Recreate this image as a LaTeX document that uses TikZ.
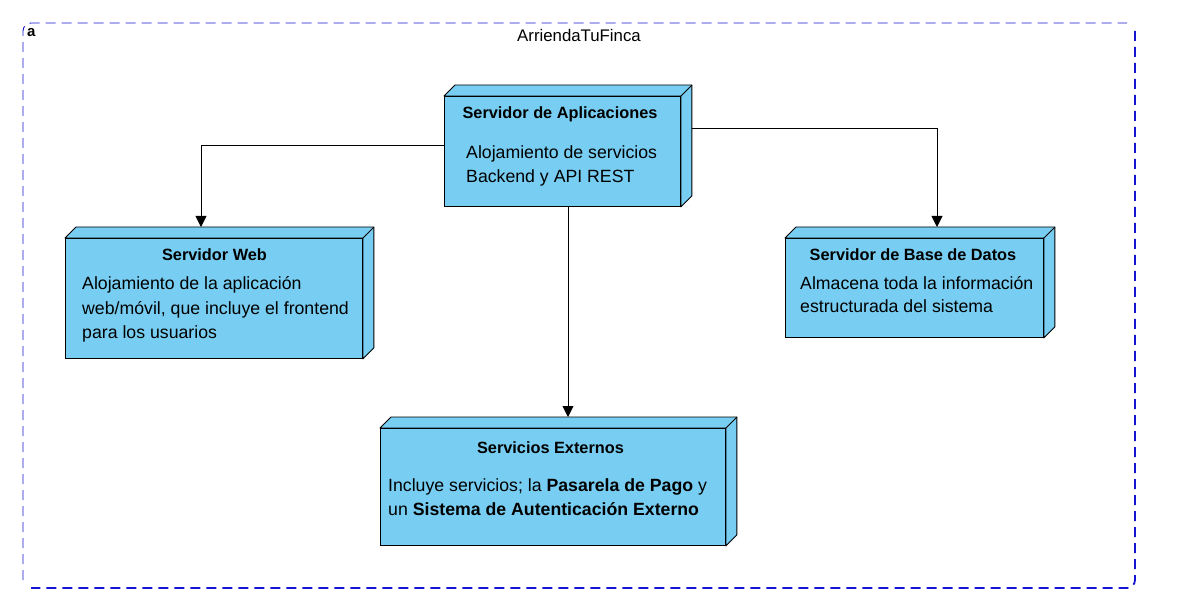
\documentclass[tikz,border=0pt]{standalone}
\usepackage{fontspec}
\setmainfont{Liberation Sans}
\usetikzlibrary{arrows.meta,calc}
\definecolor{nodeblue}{RGB}{120,206,242}
\definecolor{framblue}{RGB}{20,20,210}
\tikzset{
  boxface/.style={draw=black, fill=nodeblue, line width=0.9pt, inner sep=0pt, anchor=north west},
  depthface/.style={draw=black, fill=nodeblue, line width=0.9pt, line join=round},
  heading/.style={font=\fontsize{16.3}{19}\selectfont\bfseries, inner sep=0pt, anchor=base},
  body/.style={font=\fontsize{17.7}{24}\selectfont, align=left, anchor=base west, inner sep=0pt},
  conn/.style={line width=0.9pt, -{Triangle[length=11pt,width=11pt]}},
  frameline/.style={draw=framblue, dash pattern=on 10pt off 6pt}
}
\newcommand\depthfaces[1]{%
  \draw[depthface] (#1.north west) -- ++(11,-11) -| ($(#1.south east)+(11,-11)$) -- (#1.south east) -- (#1.north east) -- cycle;
  \draw[line width=0.9pt] (#1.north east) -- ++(11,-11);
  \draw[line width=0.9pt] (#1.north west) rectangle (#1.south east);
}
\begin{document}
\begin{tikzpicture}[x=1pt,y=-1pt]
\useasboundingbox (0,0) rectangle (1180,609);
% frame
\draw[frameline, line width=0.9pt] (23,580) -- (23,31) arc[start angle=180, end angle=270, radius=8] -- (1127,23);
\draw[frameline, line width=1.8pt] (1135,31) -- (1135,580) arc[start angle=0, end angle=90, radius=8] -- (31,588);
\node[font=\fontsize{15}{15}\selectfont\bfseries, inner sep=0pt, anchor=base west] (corner) at (27,37) {a};
\node[font=\fontsize{16.8}{18}\selectfont, inner sep=0pt] (title) at (579,35) {ArriendaTuFinca};
% boxes
\node[boxface, minimum width=236pt, minimum height=110pt] (app) at (444,96) {};
\depthfaces{app}
\node[boxface, minimum width=297pt, minimum height=120pt] (web) at (65,238) {};
\depthfaces{web}
\node[boxface, minimum width=258pt, minimum height=99pt] (db) at (785,238) {};
\depthfaces{db}
\node[boxface, minimum width=345pt, minimum height=117pt] (ext) at (380,428) {};
\depthfaces{ext}
% texts (body anchored at the baseline of its last line)
\node[heading] (appH) at (560,119) {Servidor de Aplicaciones};
\node[body] (appB) at (466,183) {Alojamiento de servicios\\Backend y API REST};
\node[heading] (webH) at (214.5,261) {Servidor Web};
\node[body] (webB) at (82,338) {Alojamiento de la aplicación\\web/móvil, que incluye el frontend\\para los usuarios};
\node[heading] (dbH) at (913,261) {Servidor de Base de Datos};
\node[body] (dbB) at (800,313) {Almacena toda la información\\estructurada del sistema};
\node[heading] (extH) at (550.5,453) {Servicios Externos};
\node[body] (extB) at (388,515) {Incluye servicios; la \textbf{Pasarela de Pago} y\\un \textbf{Sistema de Autenticación Externo}};
% connectors
\coordinate (webTop) at (201,227);
\coordinate (dbTop) at (937,227);
\coordinate (extTop) at (568,417);
\draw[conn] (app.west |- 0,145) -| (webTop);
\draw[conn] ($(app.east |- 0,128)+(11,0)$) -| (dbTop);
\draw[conn] (app.south -| extTop) -- (extTop);
\end{tikzpicture}
\end{document}
